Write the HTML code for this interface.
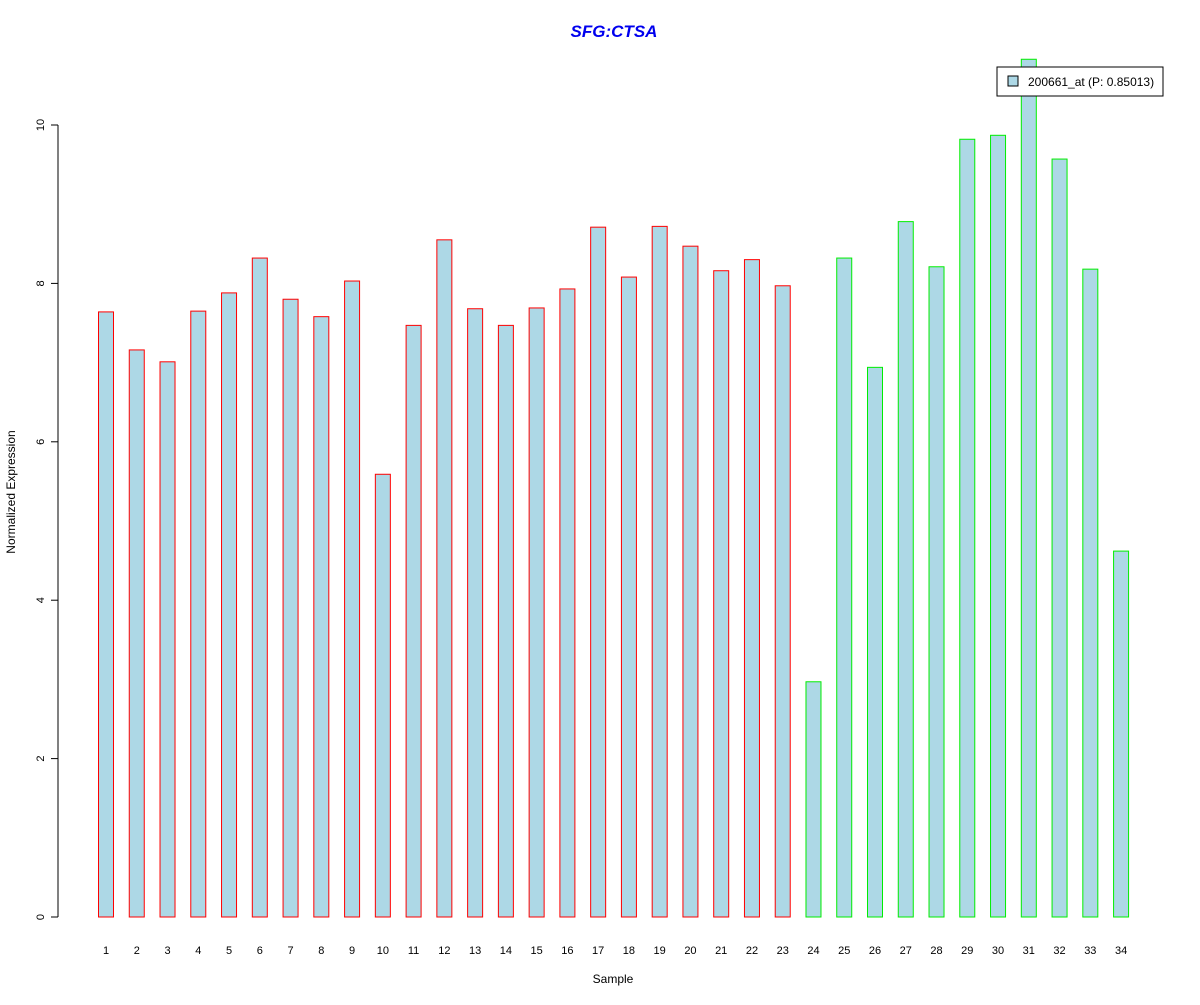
<!DOCTYPE html>
<html><head><meta charset="utf-8"><style>
html,body{margin:0;padding:0;background:#fff;}
svg text{font-family:"Liberation Sans",Arial,sans-serif;}
</style></head><body>
<svg id="chart" width="1200" height="1000" xmlns="http://www.w3.org/2000/svg">
<rect width="1200" height="1000" fill="#fff"/>
<text x="614" y="37" text-anchor="middle" font-size="17" font-weight="bold" font-style="italic" fill="#0000ee">SFG:CTSA</text>
<g id="bars"></g>
<g id="yaxis"></g>
<g id="xaxis"></g>
<text x="613" y="983" text-anchor="middle" font-size="12">Sample</text>
<text transform="translate(15,492) rotate(-90)" text-anchor="middle" font-size="12">Normalized Expression</text>
<g>
<rect x="997" y="67" width="166" height="29" fill="#fff" stroke="#000" stroke-width="1"/>
<rect x="1008" y="76" width="10" height="10" fill="#add8e6" stroke="#000" stroke-width="1"/>
<text x="1028" y="86" font-size="12">200661_at (P: 0.85013)</text>
</g>
</svg>
<script>
const categories = ["1","2","3","4","5","6","7","8","9","10","11","12","13","14","15","16","17","18","19","20","21","22","23","24","25","26","27","28","29","30","31","32","33","34"];
const values = [7.64,7.16,7.01,7.65,7.88,8.32,7.80,7.58,8.03,5.59,7.47,8.55,7.68,7.47,7.69,7.93,8.71,8.08,8.72,8.47,8.16,8.30,7.97,2.97,8.32,6.94,8.78,8.21,9.82,9.87,10.83,9.57,8.18,4.62];
const groups = [0,0,0,0,0,0,0,0,0,0,0,0,0,0,0,0,0,0,0,0,0,0,0,1,1,1,1,1,1,1,1,1,1,1];
const yTicks = [0,2,4,6,8,10];
const groupColors = ["#ff0000","#00ee00"];
const NS="http://www.w3.org/2000/svg";
function yScale(v){return 917-v*79.2;}
function xScale(i){return 106+i*30.76;}
const bars=document.getElementById('bars');
values.forEach((v,i)=>{
  const r=document.createElementNS(NS,'rect');
  r.setAttribute('x',xScale(i)-7.5);
  r.setAttribute('y',yScale(v));
  r.setAttribute('width',15);
  r.setAttribute('height',yScale(0)-yScale(v));
  r.setAttribute('fill','#add8e6');
  r.setAttribute('stroke',groupColors[groups[i]]);
  r.setAttribute('stroke-width','1');
  
  
  bars.appendChild(r);
  const t=document.createElementNS(NS,'text');
  t.setAttribute('x',xScale(i));
  t.setAttribute('y',954);
  t.setAttribute('text-anchor','middle');
  t.setAttribute('font-size','11');
  t.textContent=categories[i];
  
  
  document.getElementById('xaxis').appendChild(t);
});
const ya=document.getElementById('yaxis');
const axl=document.createElementNS(NS,'line');
axl.setAttribute('x1',58);axl.setAttribute('x2',58);
axl.setAttribute('y1',yScale(yTicks[0]));axl.setAttribute('y2',yScale(yTicks[yTicks.length-1]));
axl.setAttribute('stroke','#000');


ya.appendChild(axl);
yTicks.forEach(v=>{
  const l=document.createElementNS(NS,'line');
  l.setAttribute('x1',51);l.setAttribute('x2',58);
  l.setAttribute('y1',yScale(v));l.setAttribute('y2',yScale(v));
  l.setAttribute('stroke','#000');
  
  
  ya.appendChild(l);
  const t=document.createElementNS(NS,'text');
  t.setAttribute('transform','translate(44,'+yScale(v)+') rotate(-90)');
  t.setAttribute('text-anchor','middle');
  t.setAttribute('font-size','11');
  t.textContent=v;
  
  
  ya.appendChild(t);
});
</script>
</body></html>
